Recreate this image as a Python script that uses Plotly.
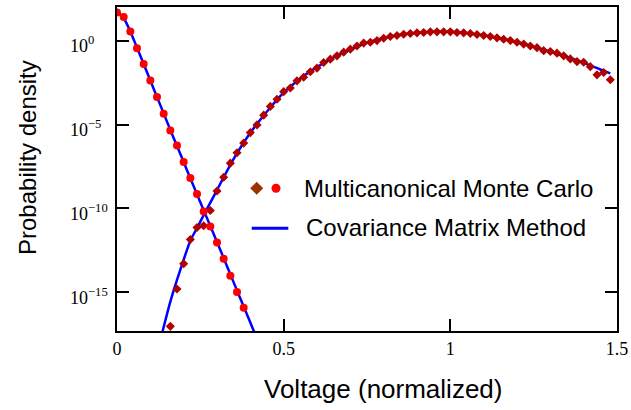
import plotly.graph_objects as go

# ---- data ----
mc_left_x = [0.00, 0.02, 0.04, 0.06, 0.08, 0.10, 0.12, 0.14, 0.16, 0.18,
             0.20, 0.22, 0.24, 0.26, 0.28, 0.30, 0.32, 0.34, 0.36, 0.38]
mc_left_y = [4.7e1, 2.5e1, 3.5e0, 3.5e-1, 4.0e-2, 4.2e-3, 4.3e-4, 4.4e-5, 4.4e-6, 5.6e-7,
             5.8e-8, 6.5e-9, 7.2e-10, 6.6e-11, 8.5e-12, 9.5e-13, 1.0e-13, 9.8e-15, 1.05e-15, 1.2e-16]

mc_right_x = [0.16, 0.18, 0.20, 0.22, 0.24, 0.26, 0.28, 0.30, 0.32, 0.34,
              0.36, 0.38, 0.40, 0.42, 0.44, 0.46, 0.48, 0.50, 0.52, 0.54,
              0.56, 0.58, 0.60, 0.62, 0.64, 0.66, 0.68, 0.70, 0.72, 0.74,
              0.76, 0.78, 0.80, 0.82, 0.84, 0.86, 0.88, 0.90, 0.92, 0.94,
              0.96, 0.98, 1.00, 1.02, 1.04, 1.06, 1.08, 1.10, 1.12, 1.14,
              1.16, 1.18, 1.20, 1.22, 1.24, 1.26, 1.28, 1.30, 1.32, 1.34,
              1.36, 1.38, 1.40, 1.42, 1.44, 1.46, 1.48]
mc_right_y = [9.5e-18, 1.6e-15, 5.1e-14, 1.4e-12, 7.4e-12, 9.3e-12, 7.6e-11, 1.1e-9, 7.2e-9, 5.0e-8,
              2.1e-7, 7.8e-7, 3.3e-6, 9.5e-6, 3.6e-5, 1.2e-4, 3.2e-4, 9.1e-4, 1.5e-3, 4.0e-3,
              6.6e-3, 1.4e-2, 2.3e-2, 4.9e-2, 7.8e-2, 0.123, 0.204, 0.309, 0.479, 0.708,
              0.794, 1.0, 1.38, 1.74, 2.0, 2.4, 2.63, 2.88, 3.02, 3.31,
              3.31, 3.31, 3.31, 3.02, 2.88, 2.63, 2.29, 2.0, 1.74, 1.45,
              1.2, 1.0, 0.794, 0.617, 0.479, 0.380, 0.251, 0.224, 0.178, 0.123,
              0.081, 0.056, 0.051, 0.028, 0.0091, 0.0126, 0.0046]

cmm_left_x = [0.00, 0.02, 0.04, 0.06, 0.08, 0.10, 0.12, 0.14, 0.16, 0.18, 0.20,
              0.22, 0.24, 0.26, 0.28, 0.30, 0.32, 0.34, 0.36, 0.38, 0.40, 0.42]
cmm_left_y = [5.6e1, 2.2e1, 3.5e0, 3.8e-1, 4.0e-2, 4.2e-3, 4.4e-4, 4.6e-5, 4.8e-6, 5.2e-7, 5.8e-8,
              6.3e-9, 6.9e-10, 7.9e-11, 8.9e-12, 1.0e-12, 1.1e-13, 1.2e-14, 1.3e-15, 1.45e-16, 1.6e-17, 1.7e-18]

cmm_right_x = [0.137, 0.16, 0.18, 0.20, 0.22, 0.24, 0.26, 0.28, 0.30, 0.35,
               0.40, 0.45, 0.50, 0.55, 0.60, 0.65, 0.70, 0.75, 0.80, 0.85,
               0.90, 0.95, 1.00, 1.05, 1.10, 1.15, 1.20, 1.25, 1.30, 1.35,
               1.40, 1.45, 1.48]
cmm_right_y = [5.0e-18, 2.8e-16, 5.6e-15, 8.9e-14, 1.2e-12, 6.8e-12, 4.0e-11, 2.2e-10, 1.26e-9, 8.9e-8,
               3.2e-6, 6.0e-5, 7.9e-4, 5.6e-3, 2.6e-2, 0.10, 0.30, 0.74, 1.41, 2.19,
               2.88, 3.31, 3.31, 2.82, 2.04, 1.32, 0.794, 0.427, 0.224, 0.105,
               0.047, 0.019, 0.0112]

x_tickvals = [0, 0.5, 1, 1.5]
x_ticktext = ["0", "0.5", "1", "1.5"]
y_tickvals = [1e0, 1e-5, 1e-10, 1e-15]
y_tickexp = [0, -5, -10, -15]
y_ticktext = ["10<sup>0</sup>", "10<sup>\u22125</sup>", "10<sup>\u221210</sup>", "10<sup>\u221215</sup>"]

x_title = "Voltage (normalized)"
y_title = "Probability density"
legend_labels = ["Multicanonical Monte Carlo", "Covariance Matrix Method"]

# ---- figure ----
W, H = 631, 410
L, R, T, B = 117, 14, 7, 79
pw, ph = W - L - R, H - T - B

def px(xpix):
    return (xpix - L) / pw

def py(ypix):
    return (H - B - ypix) / ph

fig = go.Figure()
line_style = dict(color="#0000FF", width=2.5, shape="spline", smoothing=0.6)
fig.add_trace(go.Scatter(x=cmm_left_x, y=cmm_left_y, mode="lines", line=line_style,
                         showlegend=False, hoverinfo="skip"))
fig.add_trace(go.Scatter(x=cmm_right_x, y=cmm_right_y, mode="lines", line=line_style,
                         showlegend=False, hoverinfo="skip"))
fig.add_trace(go.Scatter(x=mc_right_x, y=mc_right_y, mode="markers",
                         marker=dict(symbol="diamond", size=7, color="#B00000", line=dict(width=0)),
                         showlegend=False))
fig.add_trace(go.Scatter(x=mc_left_x, y=mc_left_y, mode="markers",
                         marker=dict(symbol="circle", size=8, color="#FF0000", line=dict(width=0)),
                         showlegend=False))

axis_common = dict(showline=True, linecolor="black", linewidth=2, mirror="ticks",
                   ticks="inside", ticklen=12, tickwidth=2, tickcolor="black",
                   showgrid=False, zeroline=False, automargin=False)

fig.update_xaxes(range=[0, 1.5], tickvals=x_tickvals, ticktext=x_ticktext,
                 tickfont=dict(family="Liberation Serif", size=18, color="black"),
                 ticklabelstandoff=0, **axis_common)
fig.update_yaxes(type="log", range=[-17.3, 2.0], tickvals=y_tickvals,
                 showticklabels=False, **axis_common)

annotations = []
for e, t in zip(y_tickexp, y_ticktext):
    annotations.append(dict(x=px(68), xref="paper", y=e, yref="y", text=t,
                            xanchor="left", yanchor="middle", showarrow=False, yshift=-4,
                            font=dict(family="Liberation Serif", size=18, color="black")))

annotations.append(dict(x=px(27), xref="paper", y=py(158), yref="paper",
                        text=y_title, textangle=-90, showarrow=False,
                        xanchor="center", yanchor="middle",
                        font=dict(family="Liberation Sans", size=24, color="black")))
annotations.append(dict(x=px(383), xref="paper", y=py(389), yref="paper",
                        text=x_title, showarrow=False,
                        xanchor="center", yanchor="middle",
                        font=dict(family="Liberation Sans", size=26, color="black")))

# legend
annotations.append(dict(x=px(302), xref="paper", y=py(188), yref="paper",
                        text=legend_labels[0], showarrow=False, xanchor="left", yanchor="middle",
                        font=dict(family="Liberation Sans", size=24, color="black")))
annotations.append(dict(x=px(304), xref="paper", y=py(228), yref="paper",
                        text=legend_labels[1], showarrow=False, xanchor="left", yanchor="middle",
                        font=dict(family="Liberation Sans", size=24, color="black")))

shapes = [
    dict(type="path", xref="paper", yref="paper", xsizemode="pixel", ysizemode="pixel",
         xanchor=px(256.7), yanchor=py(188.3),
         path="M -6.5 0 L 0 6.5 L 6.5 0 L 0 -6.5 Z",
         fillcolor="#993300", line=dict(width=0)),
    dict(type="circle", xref="paper", yref="paper", xsizemode="pixel", ysizemode="pixel",
         xanchor=px(276), yanchor=py(188.3), x0=-4.5, x1=4.5, y0=-4.5, y1=4.5,
         fillcolor="#FF0000", line=dict(width=0)),
    dict(type="line", xref="paper", yref="paper", x0=px(251.7), x1=px(288.3),
         y0=py(228.3), y1=py(228.3), line=dict(color="#0000FF", width=3)),
]

fig.update_layout(width=W, height=H, margin=dict(l=L, r=R, t=T, b=B, autoexpand=False),
                  paper_bgcolor="white", plot_bgcolor="white",
                  font=dict(family="Liberation Sans", size=18, color="black"),
                  showlegend=False, annotations=annotations, shapes=shapes)

fig.write_html("out.html", config={"displayModeBar": False},
               post_script="document.body.style.margin='0px';")
